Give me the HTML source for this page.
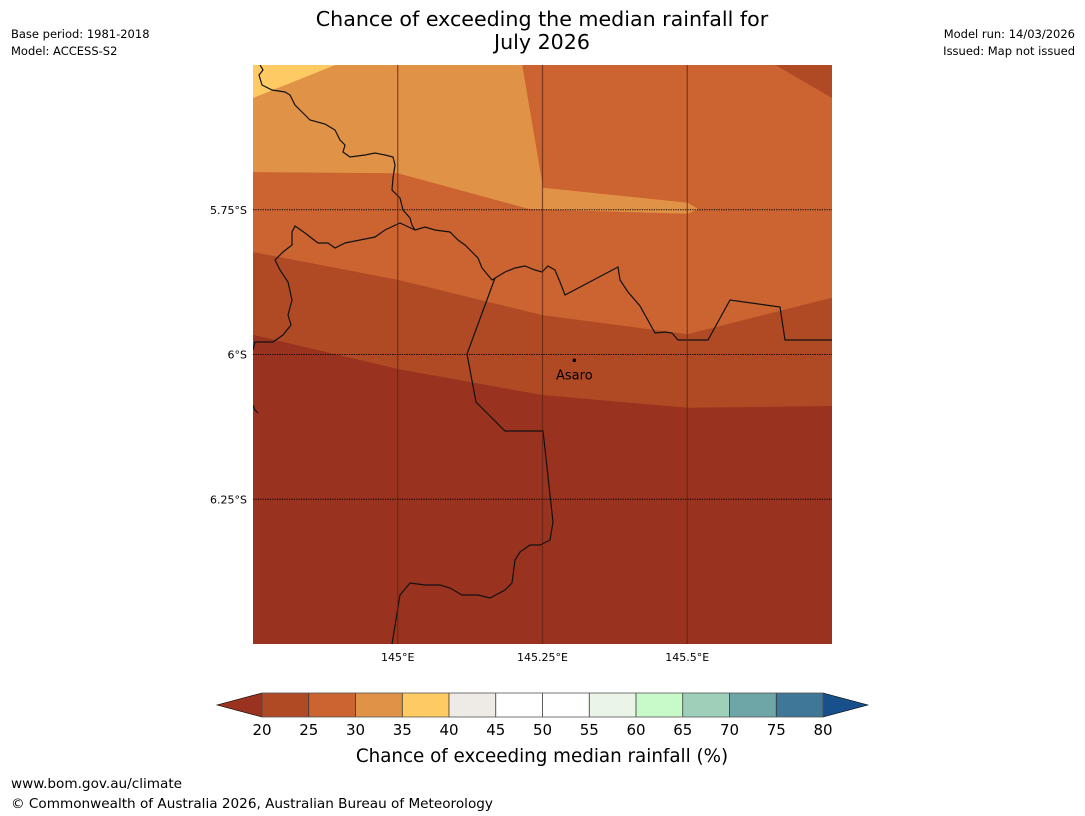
<!DOCTYPE html>
<html><head><meta charset="utf-8"><style>
body{margin:0;background:#fff;width:1085px;height:816px;overflow:hidden;font-family:"DejaVu Sans","Liberation Sans",sans-serif;}
svg{position:absolute;left:0;top:0}
</style></head><body>
<svg id="s" width="1085" height="816" xmlns="http://www.w3.org/2000/svg" font-family="DejaVu Sans, Liberation Sans, sans-serif">
<text x="542" y="26" font-size="20.6" text-anchor="middle">Chance of exceeding the median rainfall for</text>
<text x="542" y="49" font-size="20.6" text-anchor="middle">July 2026</text>
<text x="11" y="38" font-size="11.5">Base period: 1981-2018</text>
<text x="11" y="55" font-size="11.5">Model: ACCESS-S2</text>
<text x="1075" y="38" font-size="11.5" text-anchor="end">Model run: 14/03/2026</text>
<text x="1075" y="55" font-size="11.5" text-anchor="end">Issued: Map not issued</text>
<defs><clipPath id="mc"><rect x="253" y="65" width="579" height="579"/></clipPath></defs>
<g id="map" clip-path="url(#mc)"></g>
<g id="axes"></g>
<g id="cbar"></g>
<text x="542" y="762" font-size="18.3" text-anchor="middle">Chance of exceeding median rainfall (%)</text>
<text x="11" y="788" font-size="13.6">www.bom.gov.au/climate</text>
<text x="11" y="808" font-size="13.6">© Commonwealth of Australia 2026, Australian Bureau of Meteorology</text>
</svg>
<script>
// data
const lonTicks=[145,145.25,145.5];
const lonTickLabels=["145°E","145.25°E","145.5°E"];
const latTicks=[5.75,6,6.25];
const latTickLabels=["5.75°S","6°S","6.25°S"];
const cbLevels=[20,25,30,35,40,45,50,55,60,65,70,75,80];
const cbColors=["#b04a25","#cb6431","#e09246","#fdca63","#eeeae6","#ffffff","#ffffff","#eaf5e8","#c8f9c8","#9dcfb9","#6ea5a6","#3e7797"];
const belowColor="#99331f", aboveColor="#17508a";
const bound20Lon=[144.75,145,145.25,145.5,145.75];
const bound20Lat=[5.966,6.025,6.070,6.092,6.089];
const bound25Lon=[144.75,145,145.25,145.5,145.75];
const bound25Lat=[5.823,5.871,5.932,5.965,5.902];
const orangeLon=[144.75,145.215,145.251,145.501,145.519,145.501,145.228,145.0,144.75];
const orangeLat=[5.5,5.5,5.712,5.738,5.749,5.757,5.749,5.687,5.685];
const yellowLon=[144.75,144.892,144.75];
const yellowLat=[5.5,5.5,5.557];
const cornerLon=[145.652,145.75,145.75];
const cornerLat=[5.5,5.5,5.557];
const town={name:"Asaro",lon:145.305,lat:6.01};

const NS="http://www.w3.org/2000/svg";
const X0=253,Y0=65,S=579,LON0=144.75,LAT0=5.5;
const px=l=>X0+(l-LON0)*S, py=l=>Y0+(l-LAT0)*S;
function mk(t,a,p){const e=document.createElementNS(NS,t);for(const k in a)e.setAttribute(k,a[k]);p.appendChild(e);return e;}
const map=document.getElementById('map'),axes=document.getElementById('axes'),cb=document.getElementById('cbar');
function poly(lons,lats,fill,name){
  const pts=lons.map((l,i)=>px(l)+','+py(lats[i])).join(' ');
  const e=mk('polygon',{points:pts,fill:fill},map);
  
  
}
let r=mk('rect',{x:X0,y:Y0,width:S,height:S,fill:belowColor},map);


poly(bound20Lon.concat([145.75,144.75]),bound20Lat.concat([5.5,5.5]),cbColors[0],'region-20-25');
poly(bound25Lon.concat([145.75,144.75]),bound25Lat.concat([5.5,5.5]),cbColors[1],'region-25-30');
poly(cornerLon,cornerLat,cbColors[0],'region-20-25-corner');
poly(orangeLon,orangeLat,cbColors[2],'region-30-35');
poly(yellowLon,yellowLat,cbColors[3],'region-35-40');
// borders
const borders=[
"M260,65 L263,70 L259,75 L262,85 L272,90 L285,92 L290,95 L295,105 L303,113 L310,120 L325,124 L335,130 L340,140 L345,145 L343,152 L350,157 L365,155 L375,153 L385,155 L393,157 L395,165 L393,178 L392,190 L400,198 L403,210 L410,218 L412,225 L415,230",
"M415,230 L400,223 L385,230 L375,237 L360,240 L345,243 L335,248 L328,243 L318,243 L305,233 L295,226 L292,232 L292,245 L283,252 L275,260 L280,270 L288,282 L292,300 L288,315 L291,325 L283,335 L273,342 L255,342 L253,350",
"M415,230 L425,227 L435,230 L450,232 L458,240 L465,245 L478,258 L482,268 L492,280 L505,272 L515,268 L525,266 L535,270 L542,272 L548,266 L555,270 L560,282 L565,295 L618,267 L620,280 L628,292 L640,306 L655,333 L665,332 L672,333 L678,340 L708,340 L730,300 L780,307 L785,340 L832,340",
"M495,278 L467,354 L476,402 L505,431 L543,431 L553,522 L550,540 L540,545 L530,545 L520,552 L515,560 L512,583 L505,590 L490,598 L478,595 L462,595 L450,588 L440,585 L425,585 L410,583 L400,595 L392,644",
"M253,405 L255,410 L258,413"];
borders.forEach((d,i)=>{const e=mk('path',{d:d,fill:'none',stroke:'#111',"stroke-width":1.2},map);

});
// gridlines
lonTicks.forEach((l,i)=>{const e=mk('line',{x1:px(l),x2:px(l),y1:Y0,y2:Y0+S,stroke:'#5a2210',"stroke-opacity":0.7,"stroke-width":1.2},map);


const t=mk('text',{x:px(l),y:661,"font-size":11,"text-anchor":"middle"},axes);t.textContent=lonTickLabels[i];

});
latTicks.forEach((l,i)=>{const e=mk('line',{x1:X0,x2:X0+S,y1:py(l),y2:py(l),stroke:'#000',"stroke-width":1,"stroke-dasharray":"1.2,1.2"},map);


const t=mk('text',{x:247,y:py(l)+4,"font-size":11,"text-anchor":"end"},axes);t.textContent=latTickLabels[i];

});
// town
let c=mk('circle',{cx:px(town.lon),cy:py(town.lat),r:1.8,fill:'#000'},map);


let tt=mk('text',{x:px(town.lon),y:py(town.lat)+19,"font-size":13,"text-anchor":"middle"},map);tt.textContent=town.name;


// colorbar
const CX0=262,CX1=823,CY0=693,CY1=717;
const cx=v=>CX0+(v-cbLevels[0])/(cbLevels[cbLevels.length-1]-cbLevels[0])*(CX1-CX0);
let a=mk('polygon',{points:`${CX0},${CY0} ${CX0},${CY1} 217,${(CY0+CY1)/2}`,fill:belowColor,stroke:'#000',"stroke-width":0.6},cb);


let b=mk('polygon',{points:`${CX1},${CY0} ${CX1},${CY1} 868,${(CY0+CY1)/2}`,fill:aboveColor,stroke:'#000',"stroke-width":0.6},cb);


cbColors.forEach((col,i)=>{const e=mk('rect',{x:cx(cbLevels[i]),y:CY0,width:cx(cbLevels[i+1])-cx(cbLevels[i]),height:CY1-CY0,fill:col},cb);

});
cbLevels.forEach(v=>{const e=mk('line',{x1:cx(v),x2:cx(v),y1:CY0,y2:CY1,stroke:'#333',"stroke-width":0.8},cb);


const t=mk('text',{x:cx(v),y:735,"font-size":15,"text-anchor":"middle"},cb);t.textContent=v;

});
let fr=mk('rect',{x:CX0,y:CY0,width:CX1-CX0,height:CY1-CY0,fill:'none',stroke:'#555',"stroke-width":0.8},cb);


</script>
</body></html>
